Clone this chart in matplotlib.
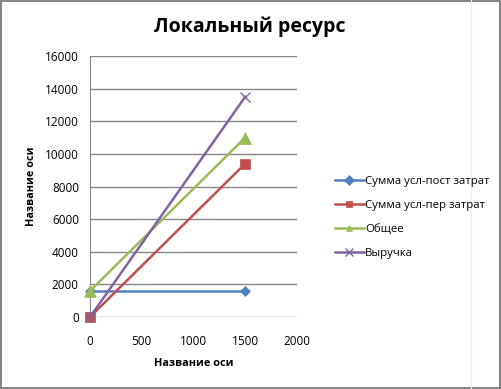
import matplotlib
matplotlib.use("Agg")
import matplotlib.pyplot as plt
from matplotlib.lines import Line2D
from matplotlib.patches import Rectangle

plt.rcParams['font.family'] = ['Open Sans', 'DejaVu Sans']

x_vals = [0, 1500]
fixed_costs = [1600, 1600]
var_costs = [0, 9400]
total = [1600, 11000]
revenue = [0, 13500]

series_names = ['Сумма усл-пост затрат', 'Сумма усл-пер затрат', 'Общее', 'Выручка']
colors = ['#4F81BD', '#C0504D', '#9BBB59', '#8064A2']
markers = ['D', 's', '^', 'x']
series = [fixed_costs, var_costs, total, revenue]

fig = plt.figure(figsize=(5.02, 3.89), dpi=100)
ax = fig.add_axes([90/502, 1-317/389, 207/502, 261/389])

sizes = {'D': 5.5, 's': 7.5, '^': 8, 'x': 7}
for ys, c, m, name in zip(series, colors, markers, series_names):
    ax.plot(x_vals, ys, color=c, lw=1.8, marker=m, ms=sizes[m], mew=1 if m == 'x' else 0.5,
            label=name, zorder=3, clip_on=False)

ax.set_xlim(0, 2000)
ax.set_ylim(0, 16000)
ax.set_xticks([0, 500, 1000, 1500, 2000])
ax.set_yticks(range(0, 16001, 2000))
ax.yaxis.grid(True, color='#868686', lw=1)
ax.set_axisbelow(True)
for s in ['top', 'right', 'bottom']:
    ax.spines[s].set_visible(False)
ax.spines['left'].set_color('#868686')
ax.tick_params(axis='both', length=0, labelsize=8.5, colors='black')
ax.tick_params(axis='x', pad=13)
ax.tick_params(axis='y', pad=8)
ax.set_xlabel('Название оси', fontsize=7.8, fontweight='bold', labelpad=7)
ax.set_ylabel('Название оси', fontsize=7.8, fontweight='bold', labelpad=6)

fig.text(250/502, 1-27/389, 'Локальный ресурс', ha='center', va='center',
         fontsize=14, fontweight='bold')

handles = [Line2D([0], [0], color=c, lw=1.8, marker=m, ms=5 if m != 'x' else 6, mew=0.5 if m != 'x' else 1)
           for c, m in zip(colors, markers)]
fig.legend(handles, series_names, loc='upper left', bbox_to_anchor=(330/502, 1-171/389),
           frameon=False, fontsize=8.2, handlelength=2.6, handletextpad=0.1, labelspacing=1.15,
           borderaxespad=0)

# frame around chart area
fig.add_artist(Rectangle((0.002, 0.003), 0.995, 0.994, transform=fig.transFigure,
                         fill=False, edgecolor='#868686', lw=1.5))
fig.add_artist(Line2D([471/502, 471/502], [0, 1], transform=fig.transFigure,
                      color='#FFFF66', lw=0.8))

fig.savefig('out.png', dpi=100)
